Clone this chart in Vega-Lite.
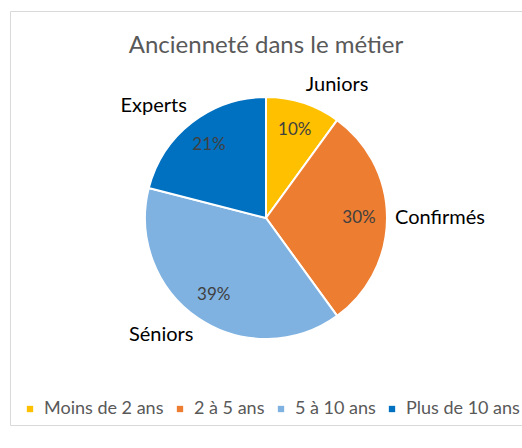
{
  "$schema": "https://vega.github.io/schema/vega-lite/v6.json",
  "width": 512,
  "height": 414,
  "autosize": {"type": "none"},
  "padding": {"left": 10, "top": 11, "right": 0, "bottom": 23},
  "view": {"stroke": "#D9D9D9", "strokeWidth": 1},
  "title": {
    "text": "Ancienneté dans le métier",
    "font": "Lato",
    "fontSize": 24,
    "fontWeight": "normal",
    "color": "#595959",
    "anchor": "middle",
    "frame": "group",
    "orient": "top",
    "offset": 0,
    "dy": 47,
    "baseline": "top"
  },
  "data": {
    "values": [
      {"categorie": "Moins de 2 ans", "label": "Juniors", "value": 10, "ord": 1},
      {"categorie": "2 à 5 ans", "label": "Confirmés", "value": 30, "ord": 2},
      {"categorie": "5 à 10 ans", "label": "Séniors", "value": 39, "ord": 3},
      {"categorie": "Plus de 10 ans", "label": "Experts", "value": 21, "ord": 4}
    ]
  },
  "transform": [{"calculate": "datum.value + '%'", "as": "pct"}],
  "encoding": {
    "theta": {"field": "value", "type": "quantitative", "stack": true},
    "order": {"field": "ord", "type": "quantitative"}
  },
  "layer": [
    {
      "mark": {"type": "arc", "outerRadius": 121, "stroke": "white", "strokeWidth": 2},
      "encoding": {
        "color": {
          "field": "categorie",
          "type": "nominal",
          "scale": {
            "domain": ["Moins de 2 ans", "2 à 5 ans", "5 à 10 ans", "Plus de 10 ans"],
            "range": ["#FFC000", "#ED7D31", "#7FB2E0", "#0070C0"]
          },
          "legend": {
            "orient": "none",
            "legendX": 11,
            "legendY": 389,
            "direction": "horizontal",
            "title": null,
            "symbolType": "square",
            "symbolSize": 40,
            "symbolStrokeWidth": 0,
            "labelFont": "Lato",
            "labelFontSize": 18,
            "labelColor": "#595959",
            "labelOffset": 5,
            "columnPadding": 7,
            "padding": 0,
            "labelLimit": 0
          }
        }
      }
    },
    {
      "mark": {"type": "text", "radius": 93, "font": "Lato", "fontSize": 17, "fill": "#404040"},
      "encoding": {"text": {"field": "pct", "type": "nominal"}}
    },
    {
      "mark": {
        "type": "text",
        "radius": 129,
        "font": "Lato",
        "fontSize": 20,
        "fill": "#000000",
        "align": {"expr": "sin(PI*(datum.value_start+datum.value_end)/100) >= 0 ? 'left' : 'right'"},
        "baseline": {"expr": "cos(PI*(datum.value_start+datum.value_end)/100) > 0.5 ? 'bottom' : (cos(PI*(datum.value_start+datum.value_end)/100) < -0.5 ? 'top' : 'middle')"}
      },
      "encoding": {"text": {"field": "label", "type": "nominal"}}
    }
  ]
}
